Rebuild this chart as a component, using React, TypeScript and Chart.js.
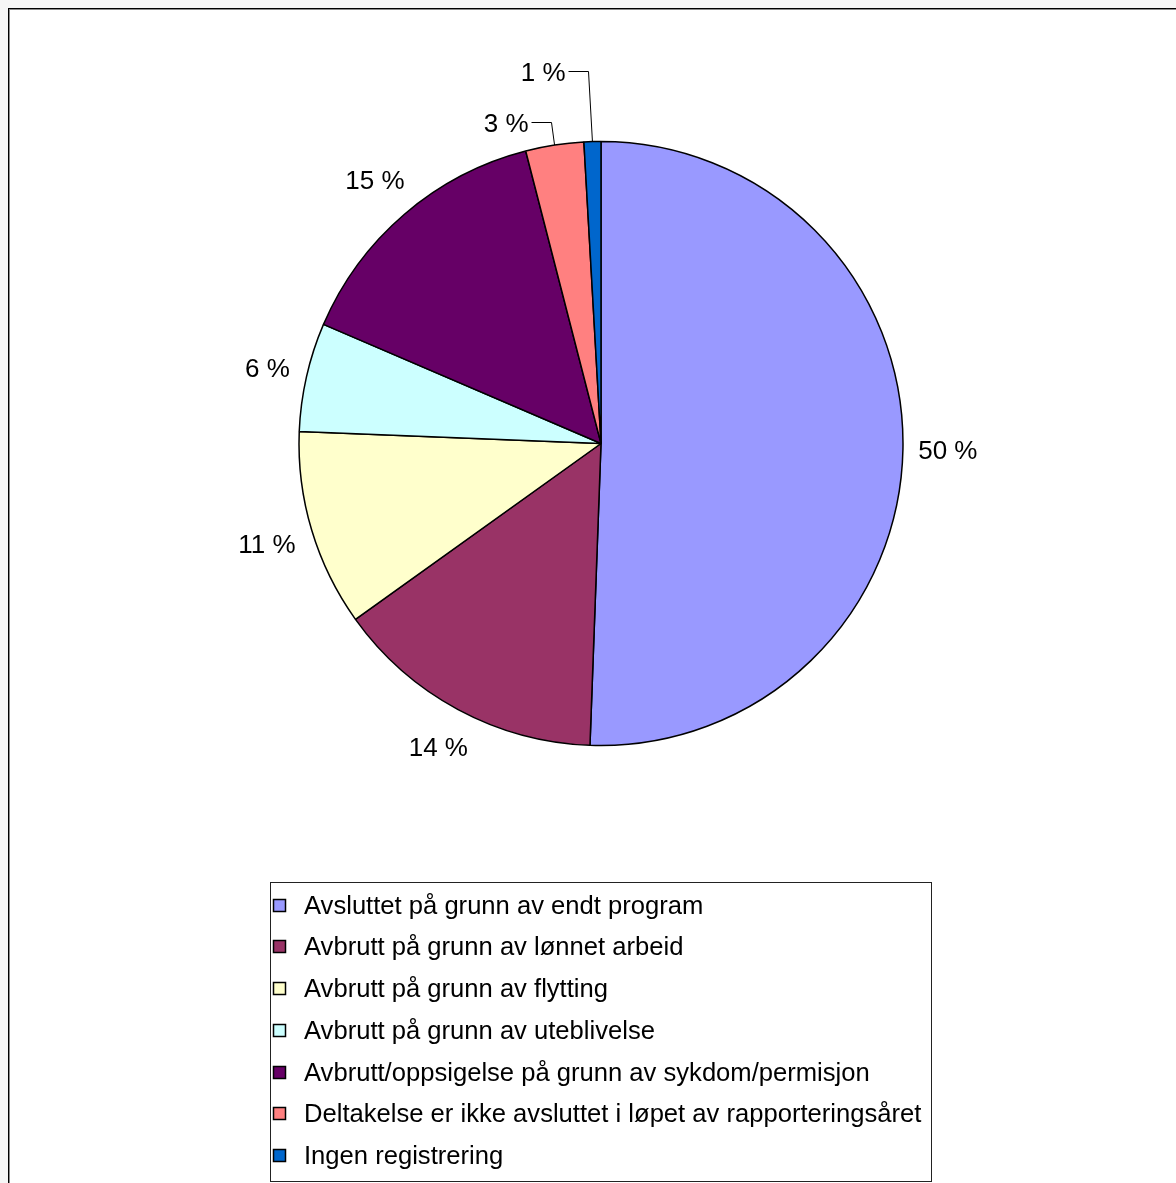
import React, { useEffect, useRef } from "react";
import { Chart, registerables } from "chart.js";

Chart.register(...registerables);

// ---- data ----
const categories = [
  "Avsluttet på grunn av endt program",
  "Avbrutt på grunn av lønnet arbeid",
  "Avbrutt på grunn av flytting",
  "Avbrutt på grunn av uteblivelse",
  "Avbrutt/oppsigelse på grunn av sykdom/permisjon",
  "Deltakelse er ikke avsluttet i løpet av rapporteringsåret",
  "Ingen registrering",
];
const shares = [50.45, 14.49, 10.5, 5.8, 14.5, 3.1, 0.9];
const sliceColors = ["#9999FF", "#993366", "#FFFFCC", "#CCFFFF", "#660066", "#FF8080", "#0066CC"];

const FONT = '26px "Liberation Sans", Arial, sans-serif';
const LEGEND_FONT = '25.6px "Liberation Sans", Arial, sans-serif';
const CAP = 18.6;
const BOXH = 29;

const pieLabelPlugin = {
  id: "pieLabels",
  afterDatasetsDraw(chart: any) {
    const ctx = chart.ctx as CanvasRenderingContext2D;
    const meta = chart.getDatasetMeta(0);
    const values = chart.data.datasets[0].data as number[];
    ctx.save();
    ctx.font = FONT;
    ctx.fillStyle = "#000";
    ctx.strokeStyle = "#000";
    ctx.lineWidth = 1;
    ctx.textBaseline = "alphabetic";
    let k = 0;
    meta.data.forEach((arc: any, i: number) => {
      const { x, y, startAngle, endAngle, outerRadius } = arc.getProps(
        ["x", "y", "startAngle", "endAngle", "outerRadius"],
        true
      );
      const mid = (startAngle + endAngle) / 2;
      const dx = Math.cos(mid);
      const dy = Math.sin(mid);
      const text = Math.round(values[i]) + " %";
      const w = ctx.measureText(text).width;
      if (values[i] < 5) {
        const rx = x + dx * outerRadius;
        const ry = y + dy * outerRadius;
        const ey = Math.round(ry - 23 - k * 48) + 0.5;
        const ex = Math.round(rx - 4) + 0.5;
        ctx.beginPath();
        ctx.moveTo(rx, ry);
        ctx.lineTo(ex, ey);
        ctx.lineTo(ex - 20, ey);
        ctx.stroke();
        ctx.textAlign = "right";
        ctx.fillText(text, ex - 23, ey + CAP / 2);
        k++;
      } else {
        const half = (Math.abs(dx) * w) / 2 + (Math.abs(dy) * BOXH) / 2;
        const d = outerRadius + 15 + half;
        ctx.textAlign = "center";
        ctx.fillText(text, x + dx * d, y + dy * d + CAP / 2);
      }
    });
    ctx.restore();
  },
};

const legendBoxPlugin = {
  id: "legendBox",
  afterDraw(chart: any) {
    const ctx = chart.ctx as CanvasRenderingContext2D;
    const labels = chart.data.labels as string[];
    const bg = chart.data.datasets[0].backgroundColor as string[];
    const left = 260;
    const top = 872;
    const width = 661;
    const height = 299;
    ctx.save();
    ctx.strokeStyle = "#222";
    ctx.lineWidth = 1;
    ctx.strokeRect(left + 0.5, top + 0.5, width, height);
    ctx.font = LEGEND_FONT;
    ctx.textAlign = "left";
    ctx.textBaseline = "alphabetic";
    labels.forEach((lab, i) => {
      const cy = 894.5 + i * 41.75;
      const sy = Math.round(cy - 6);
      ctx.fillStyle = bg[i];
      ctx.fillRect(263.5, sy + 0.5, 12, 12);
      ctx.strokeStyle = "#000";
      ctx.lineWidth = 1.5;
      ctx.strokeRect(263.5, sy + 0.5, 12, 12);
      ctx.fillStyle = "#000";
      ctx.fillText(lab, 294, cy + 9.2);
    });
    ctx.restore();
  },
};

export default function App() {
  const ref = useRef<HTMLCanvasElement | null>(null);

  useEffect(() => {
    if (!ref.current) return;
    const chart = new Chart(ref.current, {
      type: "pie",
      data: {
        labels: categories,
        datasets: [
          {
            data: shares,
            backgroundColor: sliceColors,
            borderColor: "#000",
            borderWidth: 1.5,
          },
        ],
      },
      options: {
        responsive: false,
        animation: false,
        radius: 302,
        layout: { padding: { left: 16, right: 0, top: 20, bottom: 326 } },
        plugins: {
          legend: { display: false },
          tooltip: { enabled: false },
        },
      } as any,
      plugins: [pieLabelPlugin, legendBoxPlugin],
    });
    return () => chart.destroy();
  }, []);

  return (
    <div style={{ position: "fixed", inset: 0, background: "#f6f6f6", overflow: "hidden" }}>
      <div
        style={{
          position: "absolute",
          left: 8,
          top: 8,
          width: 1400,
          height: 1400,
          borderLeft: "1px solid #000",
          borderTop: "1px solid #000",
          background: "#fff",
        }}
      >
        <div
          style={{
            position: "absolute",
            left: 0,
            top: 0,
            right: 0,
            bottom: 0,
            borderLeft: "1px solid #8a8a8a",
            borderTop: "1px solid #8a8a8a",
          }}
        />
        <canvas
          ref={ref}
          width={1166}
          height={1173}
          style={{ position: "absolute", left: 1, top: 1, display: "block" }}
        />
      </div>
    </div>
  );
}
